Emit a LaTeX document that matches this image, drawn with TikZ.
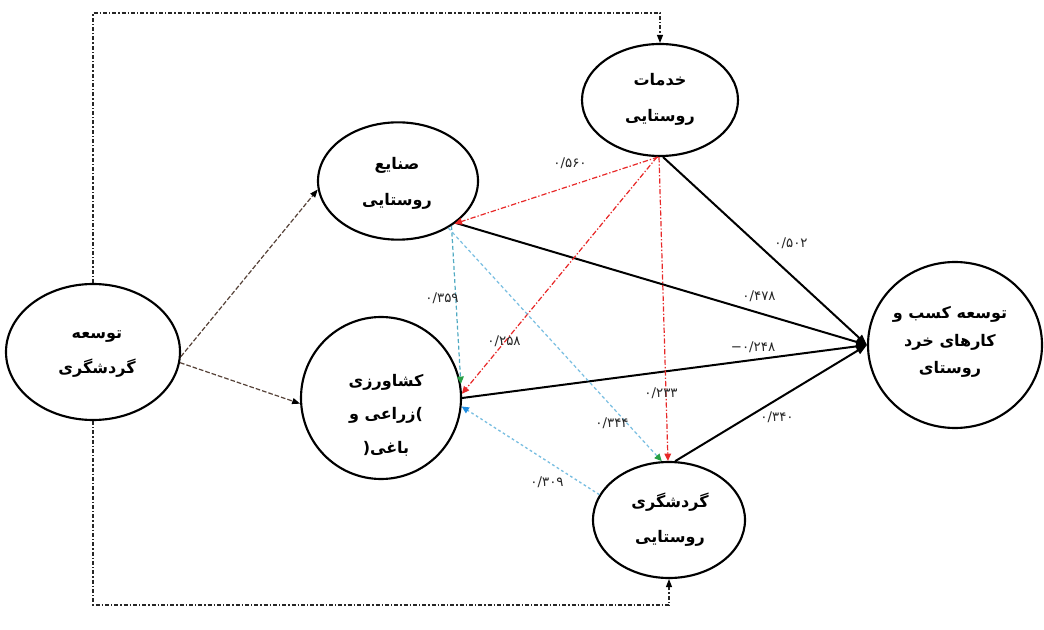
\documentclass[tikz,border=0pt]{standalone}
\usepackage{fontspec}
\usetikzlibrary{shapes.geometric,arrows.meta,calc}
\TeXXeTstate=1
\newfontfamily\fa[Script=Arabic]{DejaVu Sans}
\newfontfamily\fanum{DejaVu Sans}
\newcommand\faline[1]{\beginR #1\endR}
\definecolor{redl}{RGB}{232,40,40}
\definecolor{teall}{RGB}{80,170,195}
\definecolor{lbluel}{RGB}{120,190,225}
\definecolor{greent}{RGB}{40,160,70}
\definecolor{bluet}{RGB}{30,140,225}
\definecolor{brownl}{RGB}{85,65,55}
\begin{document}
\begin{tikzpicture}[x=0.75pt,y=-0.75pt,
  ell/.style={draw, line width=1.6pt, ellipse, inner sep=0pt},
  txt/.style={font=\fa\bfseries\fontsize{12}{#1}\selectfont, align=center, inner sep=0pt},
  txt/.default=27pt,
  num/.style={font=\fanum\fontsize{10}{11}\selectfont, text=black!85, inner sep=1pt},
  blk/.style={line width=1.5pt, -{Triangle[length=8pt,width=6pt]}},
  redline/.style={redl, line width=0.9pt, dash pattern=on 4pt off 1.5pt on 1pt off 1.5pt, -{Triangle[length=5.5pt,width=5pt]}},
  tealline/.style={teall, line width=0.9pt, dash pattern=on 3pt off 2pt, -{Triangle[length=5.5pt,width=5pt,color=greent]}},
  lblueline/.style={lbluel, line width=0.9pt, dash pattern=on 2.5pt off 2pt, -{Triangle[length=5.5pt,width=5pt,color=greent]}},
  blueline/.style={lbluel, line width=1pt, dash pattern=on 2pt off 2pt, -{Triangle[length=5.5pt,width=5pt,color=bluet]}},
  dashline/.style={brownl, line width=0.9pt, dash pattern=on 3.5pt off 1.5pt, -{Triangle[length=6pt,width=4.5pt,color=black]}},
  loopline/.style={black!85, line width=0.8pt, dash pattern=on 3pt off 1.5pt on 1pt off 1.5pt, -{Triangle[length=6pt,width=4.5pt,color=black]}}
]
\fill[white] (0,0) rectangle (1044,630);
\useasboundingbox (0,0) rectangle (1044,630);

% ellipses
\node[ell, minimum width=117pt, minimum height=84pt] (K) at (660,100) {};
\node[ell, minimum width=120pt, minimum height=88pt] (S) at (398,181) {};
\node[ell, minimum width=130.5pt, minimum height=102pt] (T) at (93,352) {};
\node[ell, minimum width=120pt, minimum height=121.5pt] (A) at (381,398) {};
\node[ell, minimum width=114pt, minimum height=87pt] (G) at (669,520) {};
\node[ell, minimum width=130.5pt, minimum height=124.5pt] (B) at (955,345) {};

% texts
\node[txt] (Kt) at (660,99) {\faline{خدمات}\\\faline{روستایی}};
\node[txt] (St) at (397,183) {\faline{صنایع}\\\faline{روستایی}};
\node[txt=26pt] (Tt) at (97,354) {\faline{توسعه}\\\faline{گردشگری}};
\node[txt=25pt] (At) at (386,415) {\faline{کشاورزی}\\\faline{زراعی و})\\(\faline{باغی}};
\node[txt=26pt] (Gt) at (670,520) {\faline{گردشگری}\\\faline{روستایی}};
\node[txt=20.5pt] (Bt) at (950,342) {\faline{توسعه کسب و}\\\faline{کارهای خرد}\\\faline{روستای}};

% loop lines
\coordinate (topy) at (0,13);
\coordinate (boty) at (0,605);
\draw[loopline] (T.north) |- (topy -| K.north) -- (K.north);
\draw[loopline] (T.south) |- (boty -| G.south) -- (G.south);

% dashed from T
\draw[dashline] (T.-3) -- (S.186);
\draw[dashline] (T.-7) -- (A.184);

% black solid to B
\coordinate (Bin) at (B.180);
\draw[blk] (K.-87) -- (Bin);
\draw[blk] (S.-36) -- (Bin);
\draw[blk] (A.0) -- (Bin);
\draw[blk] (G.84) -- (Bin);

% red dash-dot from K
\draw[redline] (K.-92) -- (S.-37);
\draw[redline] (K.-93) -- (A.3);
\draw[redline] (K.-91) -- (G.91);

% blue/teal
\draw[tealline] (S.-40) -- (A.10);
\draw[lblueline] (S.-43) -- (G.97);
\draw[blueline] (G.160) -- (A.-6);

% numbers
\node[num] (n560) at (570,163) {۰/۵۶۰};
\node[num] (n502) at (791,243) {۰/۵۰۲};
\node[num] (n478) at (759,296) {۰/۴۷۸};
\node[num] (n359) at (442,298) {۰/۳۵۹};
\node[num] (n258) at (504,341) {۰/۲۵۸};
\node[num] (n248) at (753,347) {−۰/۲۴۸};
\node[num] (n233) at (661,393) {۰/۲۳۳};
\node[num] (n344) at (612,423) {۰/۳۴۴};
\node[num] (n340) at (777,417) {۰/۳۴۰};
\node[num] (n309) at (547,482) {۰/۳۰۹};
\end{tikzpicture}
\end{document}
